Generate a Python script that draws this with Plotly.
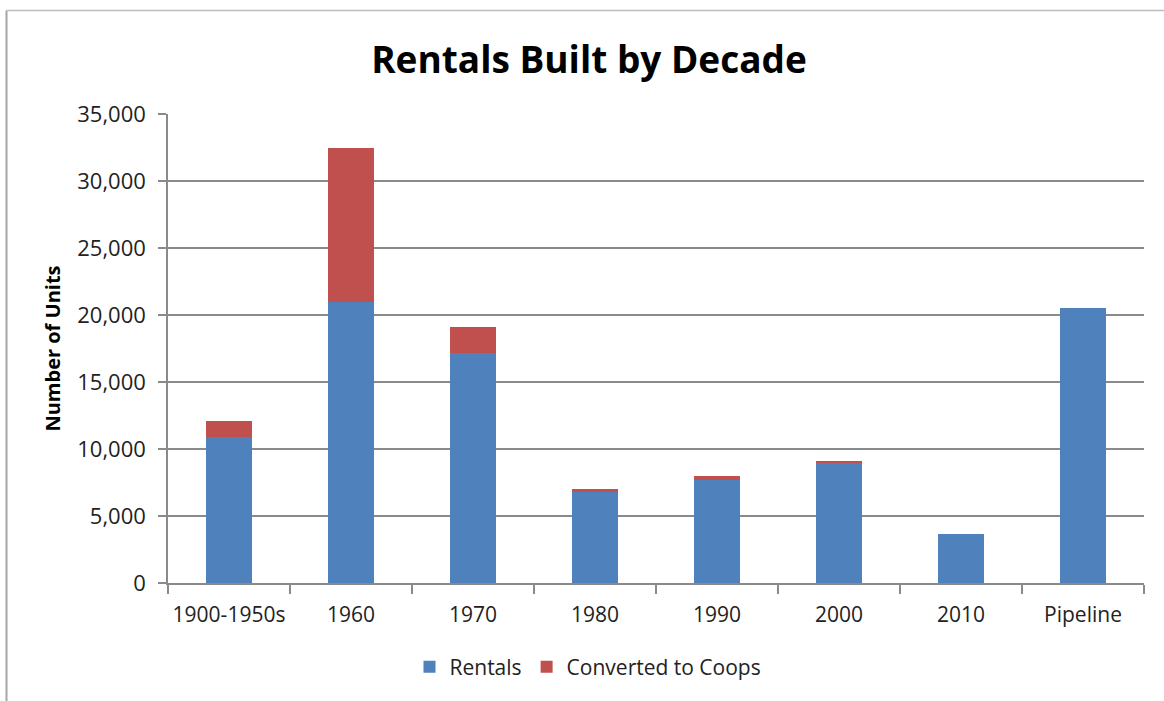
import plotly.graph_objects as go

categories = ["1900-1950s", "1960", "1970", "1980", "1990", "2000", "2010", "Pipeline"]
rentals = [10870, 20980, 17140, 6770, 7650, 8970, 3660, 20520]
converted = [1210, 11490, 1990, 230, 350, 120, 0, 0]
y_ticks = [0, 5000, 10000, 15000, 20000, 25000, 30000, 35000]

FONT = "Open Sans"
W, H = 1164, 701
L, R, T, B = 168, 20, 114, 118
pw, ph = W - L - R, H - T - B

def px(x):
    return (x - L) / pw

def py(y):
    return (H - B - y) / ph

fig = go.Figure()
fig.add_trace(go.Bar(x=categories, y=rentals, name="Rentals",
                     marker=dict(color="#4F81BD", line=dict(width=0))))
fig.add_trace(go.Bar(x=categories, y=converted, name="Converted to Coops",
                     marker=dict(color="#C0504D", line=dict(width=0))))

grid = "#8a8a8a"
fig.update_layout(
    width=W, height=H,
    barmode="stack", bargap=0.615,
    paper_bgcolor="white", plot_bgcolor="white",
    margin=dict(l=L, r=R, t=T, b=B, autoexpand=False),
    font=dict(family=FONT, color="#222222"),
    title=dict(text="<b>Rentals Built by Decade</b>", font=dict(family=FONT, size=37, color="black"),
               x=589 / W, xanchor="center", xref="container",
               y=1 - 60 / H, yanchor="middle", yref="container"),
    showlegend=True,
    legend=dict(orientation="h", x=px(588), xanchor="center", y=py(667), yanchor="middle",
                font=dict(family=FONT, size=21, color="#222222"), traceorder="normal",
                itemwidth=30),
    xaxis=dict(type="category", showline=True, linecolor=grid, linewidth=1.5,
               ticks="outside", tickson="boundaries", ticklen=9, tickcolor=grid, tickwidth=1.5,
               tickangle=0, ticklabelstandoff=12,
               tickfont=dict(family=FONT, size=21, color="#222222"), showgrid=False),
    yaxis=dict(range=[0, 35000], tickvals=y_ticks, tickformat=",d",
               showline=True, linecolor=grid, linewidth=1.5,
               ticks="outside", ticklen=8, tickcolor=grid, tickwidth=1.5,
               ticklabelstandoff=8,
               showgrid=True, gridcolor=grid, gridwidth=1.5, zeroline=False,
               tickfont=dict(family=FONT, size=22, color="#222222"),
               title=dict(text="<b>Number of Units</b>", font=dict(family=FONT, size=20, color="black"),
                          standoff=11)),
)

# outer chart border (top and left visible)
fig.add_shape(type="line", xref="paper", yref="paper",
              x0=px(6.5), x1=px(6.5), y0=py(H + 5), y1=py(10.5),
              line=dict(color="#a6a6a6", width=2))
fig.add_shape(type="line", xref="paper", yref="paper",
              x0=px(6.5), x1=px(W + 5), y0=py(10.5), y1=py(10.5),
              line=dict(color="#bdbdbd", width=1.5))

fig.write_html("out.html", config={"displayModeBar": False},
               post_script="document.body.style.margin='0';document.body.style.overflow='hidden';")
